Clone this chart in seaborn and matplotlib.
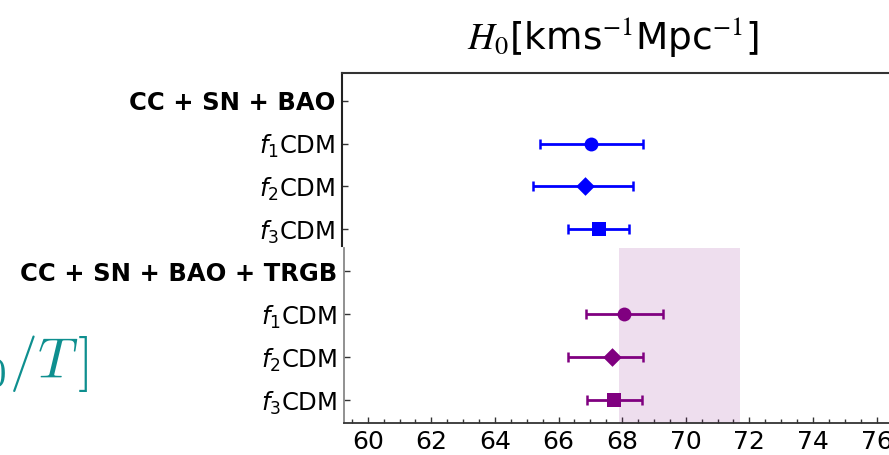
import numpy as np
import pandas as pd
import matplotlib
matplotlib.use("Agg")
import matplotlib.pyplot as plt
import seaborn as sns

# ---- data ----
headers = ["CC + SN + BAO", "CC + SN + BAO + TRGB"]
models = [r"$f_1$CDM", r"$f_2$CDM", r"$f_3$CDM"]
markers = ["o", "D", "s"]

h0_cc = [67.02, 66.83, 67.27]
lo_cc = [1.60, 1.62, 0.96]
hi_cc = [1.63, 1.52, 0.96]

h0_trgb = [68.07, 67.67, 67.75]
lo_trgb = [1.20, 1.38, 0.84]
hi_trgb = [1.21, 1.00, 0.87]

trgb_center = 69.8
trgb_sigma = 1.9

xticks = [60, 62, 64, 66, 68, 70, 72, 74, 76]

sns.set_theme(style="ticks")
plt.rcParams["font.family"] = ["DejaVu Sans"]
for k in ["text.color", "axes.labelcolor", "xtick.color", "ytick.color"]:
    plt.rcParams[k] = "black"

W, H = 889, 455
fig = plt.figure(figsize=(W / 100, H / 100), dpi=100)

x_left_px = 342.3
px_per_unit = 31.8
xlim = (59.2, 78.0)
ax_w = (xlim[1] - xlim[0]) * px_per_unit / W
ax_l = x_left_px / W

# top panel: 73 -> 246 px ; bottom panel: 248 -> 422.7 px
ax1 = fig.add_axes([ax_l, 1 - 246 / H, ax_w, (246 - 73) / H])
ax2 = fig.add_axes([ax_l + 2 / W, 1 - 422.7 / H, ax_w, (422.7 - 248) / H])

def panel(ax, header, h0, lo, hi, color, ylim):
    df = pd.DataFrame({"H0": h0, "row": [1, 2, 3], "model": models})
    ax.errorbar(df["H0"], df["row"], xerr=[lo, hi], fmt="none",
                ecolor=color, elinewidth=2.0, capsize=3.5, capthick=1.8, zorder=3)
    for m, (_, r) in zip(markers, df.iterrows()):
        sns.scatterplot(x=[r["H0"]], y=[r["row"]], ax=ax, marker=m,
                        color=color, s=100 if m != "D" else 90,
                        edgecolor=color, linewidth=0, zorder=4, legend=False)
    ax.set_xlim(*xlim)
    ax.set_ylim(*ylim)
    ax.set_yticks([0, 1, 2, 3])
    ax.set_yticklabels([header] + models, fontsize=17.5)
    ax.get_yticklabels()[0].set_fontweight("bold")
    ax.tick_params(axis="y", direction="in", length=4, width=1.0, pad=5,
                   color="#333333")
    ax.set_xlabel("")
    ax.set_ylabel("")

panel(ax1, headers[0], h0_cc, lo_cc, hi_cc, "#0000ff", (3.40, -0.656))
panel(ax2, headers[1], h0_trgb, lo_trgb, hi_trgb, "#800080", (3.53, -0.54))

ax2.axvspan(trgb_center - trgb_sigma, trgb_center + trgb_sigma,
            color="#800080", alpha=0.13, lw=0, zorder=1)

# top panel spines
for s in ["bottom", "right"]:
    ax1.spines[s].set_visible(False)
ax1.spines["top"].set_color("#333333")
ax1.spines["top"].set_linewidth(1.5)
ax1.spines["left"].set_color("#222222")
ax1.spines["left"].set_linewidth(1.5)
ax1.set_xticks([])

# bottom panel spines
ax2.spines["top"].set_visible(False)
ax2.spines["right"].set_visible(False)
ax2.spines["left"].set_color("#888888")
ax2.spines["left"].set_linewidth(1.3)
ax2.spines["bottom"].set_color("#333333")
ax2.spines["bottom"].set_linewidth(1.3)
ax2.set_xlim(xlim[0] + 2 / px_per_unit, xlim[1] + 2 / px_per_unit)
ax2.set_xticks(xticks)
ax2.set_xticklabels([str(t) for t in xticks], fontsize=18)
ax2.xaxis.set_minor_locator(matplotlib.ticker.MultipleLocator(0.5))
ax2.tick_params(axis="x", which="major", direction="in", length=4, width=1.0,
                pad=5, color="#333333")
ax2.tick_params(axis="x", which="minor", direction="in", length=3, width=1.0,
                color="#333333")

fig.text(612.5 / W, 1 - 38 / H, r"$H_0$[kms$^{-1}$Mpc$^{-1}$]",
         ha="center", va="center", fontsize=27, math_fontfamily="stix")

fig.text(89 / W, 1 - 378 / H, r"$[H_0/T\,]$", ha="right", va="baseline",
         fontsize=40, color="#0e8f8f", math_fontfamily="cm")

fig.savefig("out.png", dpi=100)
